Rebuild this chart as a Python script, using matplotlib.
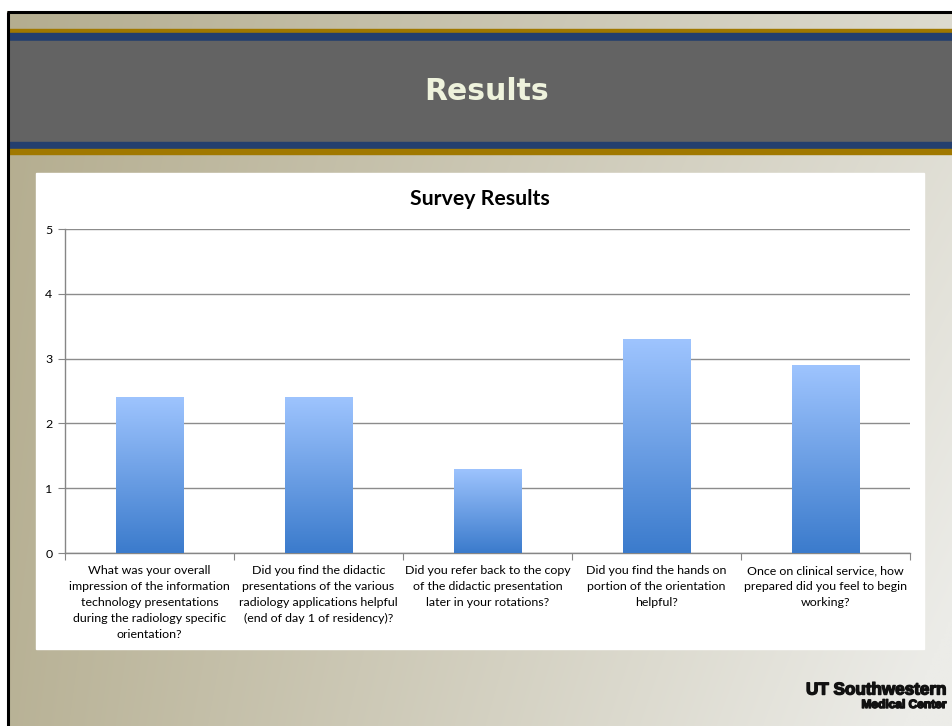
import numpy as np
import matplotlib
matplotlib.use("Agg")
import matplotlib.pyplot as plt
from matplotlib.colors import LinearSegmentedColormap
from matplotlib.patches import Rectangle
import matplotlib.patheffects as pe

# Survey data
questions = [
    "What was your overall\nimpression of the information\ntechnology presentations\nduring the radiology specific\norientation?",
    "Did you find the didactic\npresentations of the various\nradiology applications helpful\n(end of day 1 of residency)?",
    "Did you refer back to the copy\nof the didactic presentation\nlater in your rotations?",
    "Did you find the hands on\nportion of the orientation\nhelpful?",
    "Once on clinical service, how\nprepared did you feel to begin\nworking?",
]
scores = [2.4, 2.4, 1.3, 3.3, 2.9]
y_ticks = [0, 1, 2, 3, 4, 5]

W, H = 952, 726
fig = plt.figure(figsize=(W / 100, H / 100), dpi=100)
fig.patch.set_facecolor("white")

# Slide background: tan-to-light diagonal gradient
bg = fig.add_axes([0, 0, 1, 1], zorder=0)
bg.set_xlim(0, W)
bg.set_ylim(H, 0)
bg.axis("off")
xx, yy = np.meshgrid(np.linspace(0, 1, 400), np.linspace(0, 1, 300))
t = np.clip(0.72 * xx + 0.08 * yy + 0.25 * xx * yy, 0, 1)
c0 = np.array([180, 173, 143]) / 255
c1 = np.array([236, 236, 232]) / 255
img = c0[None, None, :] * (1 - t[..., None]) + c1[None, None, :] * t[..., None]
bg.imshow(img, extent=[7, W, H, 11], aspect="auto", interpolation="bilinear", zorder=0)

# Outer frame
bg.plot([8, 8], [H, 12], color="black", lw=2.2, solid_capstyle="butt", zorder=3)
bg.plot([7, W], [12, 12], color="black", lw=2.2, solid_capstyle="butt", zorder=3)

# Header band with stripes
bg.add_patch(Rectangle((9, 29), W, 4, color="#A07800", zorder=2))
bg.add_patch(Rectangle((9, 33), W, 8, color="#243F6E", zorder=2))
bg.add_patch(Rectangle((9, 41), W, 101, color="#636363", zorder=2))
bg.add_patch(Rectangle((9, 142), W, 7, color="#243F6E", zorder=2))
bg.add_patch(Rectangle((9, 149), W, 5, color="#A07800", zorder=2))
bg.text(487, 92, "Results", color="#EEF2DC", fontsize=21.5, fontweight="bold",
        family="DejaVu Sans", ha="center", va="center", zorder=4)

# White chart panel
bg.add_patch(Rectangle((36, 173), 888, 476, color="white", zorder=2))
bg.text(480, 199, "Survey Results", fontsize=15.3, fontweight="bold",
        family="Lato", ha="center", va="center", color="black", zorder=4)

# Logo text
heavy = [pe.withStroke(linewidth=1.0, foreground="#111111")]
bg.text(947, 690, "UT Southwestern", fontsize=12.3, fontweight="bold",
        family="Liberation Sans", ha="right", va="center", color="#111111",
        zorder=4, path_effects=heavy)
bg.text(946, 705, "Medical Center", fontsize=8.6, fontweight="bold",
        family="Liberation Sans", ha="right", va="center", color="#111111",
        zorder=4, path_effects=heavy)

# Bar chart
ax = fig.add_axes([65 / W, 1 - 553 / H, (910 - 65) / W, (553 - 229) / H], zorder=5)
ax.set_facecolor("none")
x = np.arange(len(scores))
bars = ax.bar(x, scores, width=0.4, color="none", zorder=3)

cmap = LinearSegmentedColormap.from_list("barfill", ["#3B7BCC", "#9EC4FE"])
grad = np.linspace(0, 1, 256).reshape(-1, 1)
for b in bars:
    x0, y0 = b.get_x(), b.get_y()
    bw, bh = b.get_width(), b.get_height()
    im = ax.imshow(grad, cmap=cmap, origin="lower", aspect="auto",
                   extent=[x0, x0 + bw, y0, y0 + bh], zorder=3, interpolation="bilinear")
    im.set_clip_path(b)

ax.set_xlim(-0.5, len(scores) - 0.5)
ax.set_ylim(0, 5)
ax.set_yticks(y_ticks)
ax.yaxis.grid(True, color="#8C8C8C", lw=1)
ax.set_axisbelow(True)
for s in ["top", "right"]:
    ax.spines[s].set_visible(False)
for s in ["left", "bottom"]:
    ax.spines[s].set_color("#868686")
    ax.spines[s].set_linewidth(1)

ax.set_xticks(np.arange(len(scores) + 1) - 0.5)
ax.set_xticklabels([])
ax.set_xticks(x, minor=True)
ax.set_xticklabels(questions, minor=True, family="Lato", fontsize=8.9,
                   linespacing=1.53, va="top")
ax.tick_params(axis="x", which="major", length=5, color="#868686", direction="out")
ax.tick_params(axis="x", which="minor", length=0, pad=9)
ax.tick_params(axis="y", length=5, color="#868686", labelsize=8.9, pad=4)
for lbl in ax.get_yticklabels():
    lbl.set_family("Lato")

ax.set_ylim(0, 5)
ax.set_xlim(-0.5, len(scores) - 0.5)

fig.savefig("out.png", dpi=100)
